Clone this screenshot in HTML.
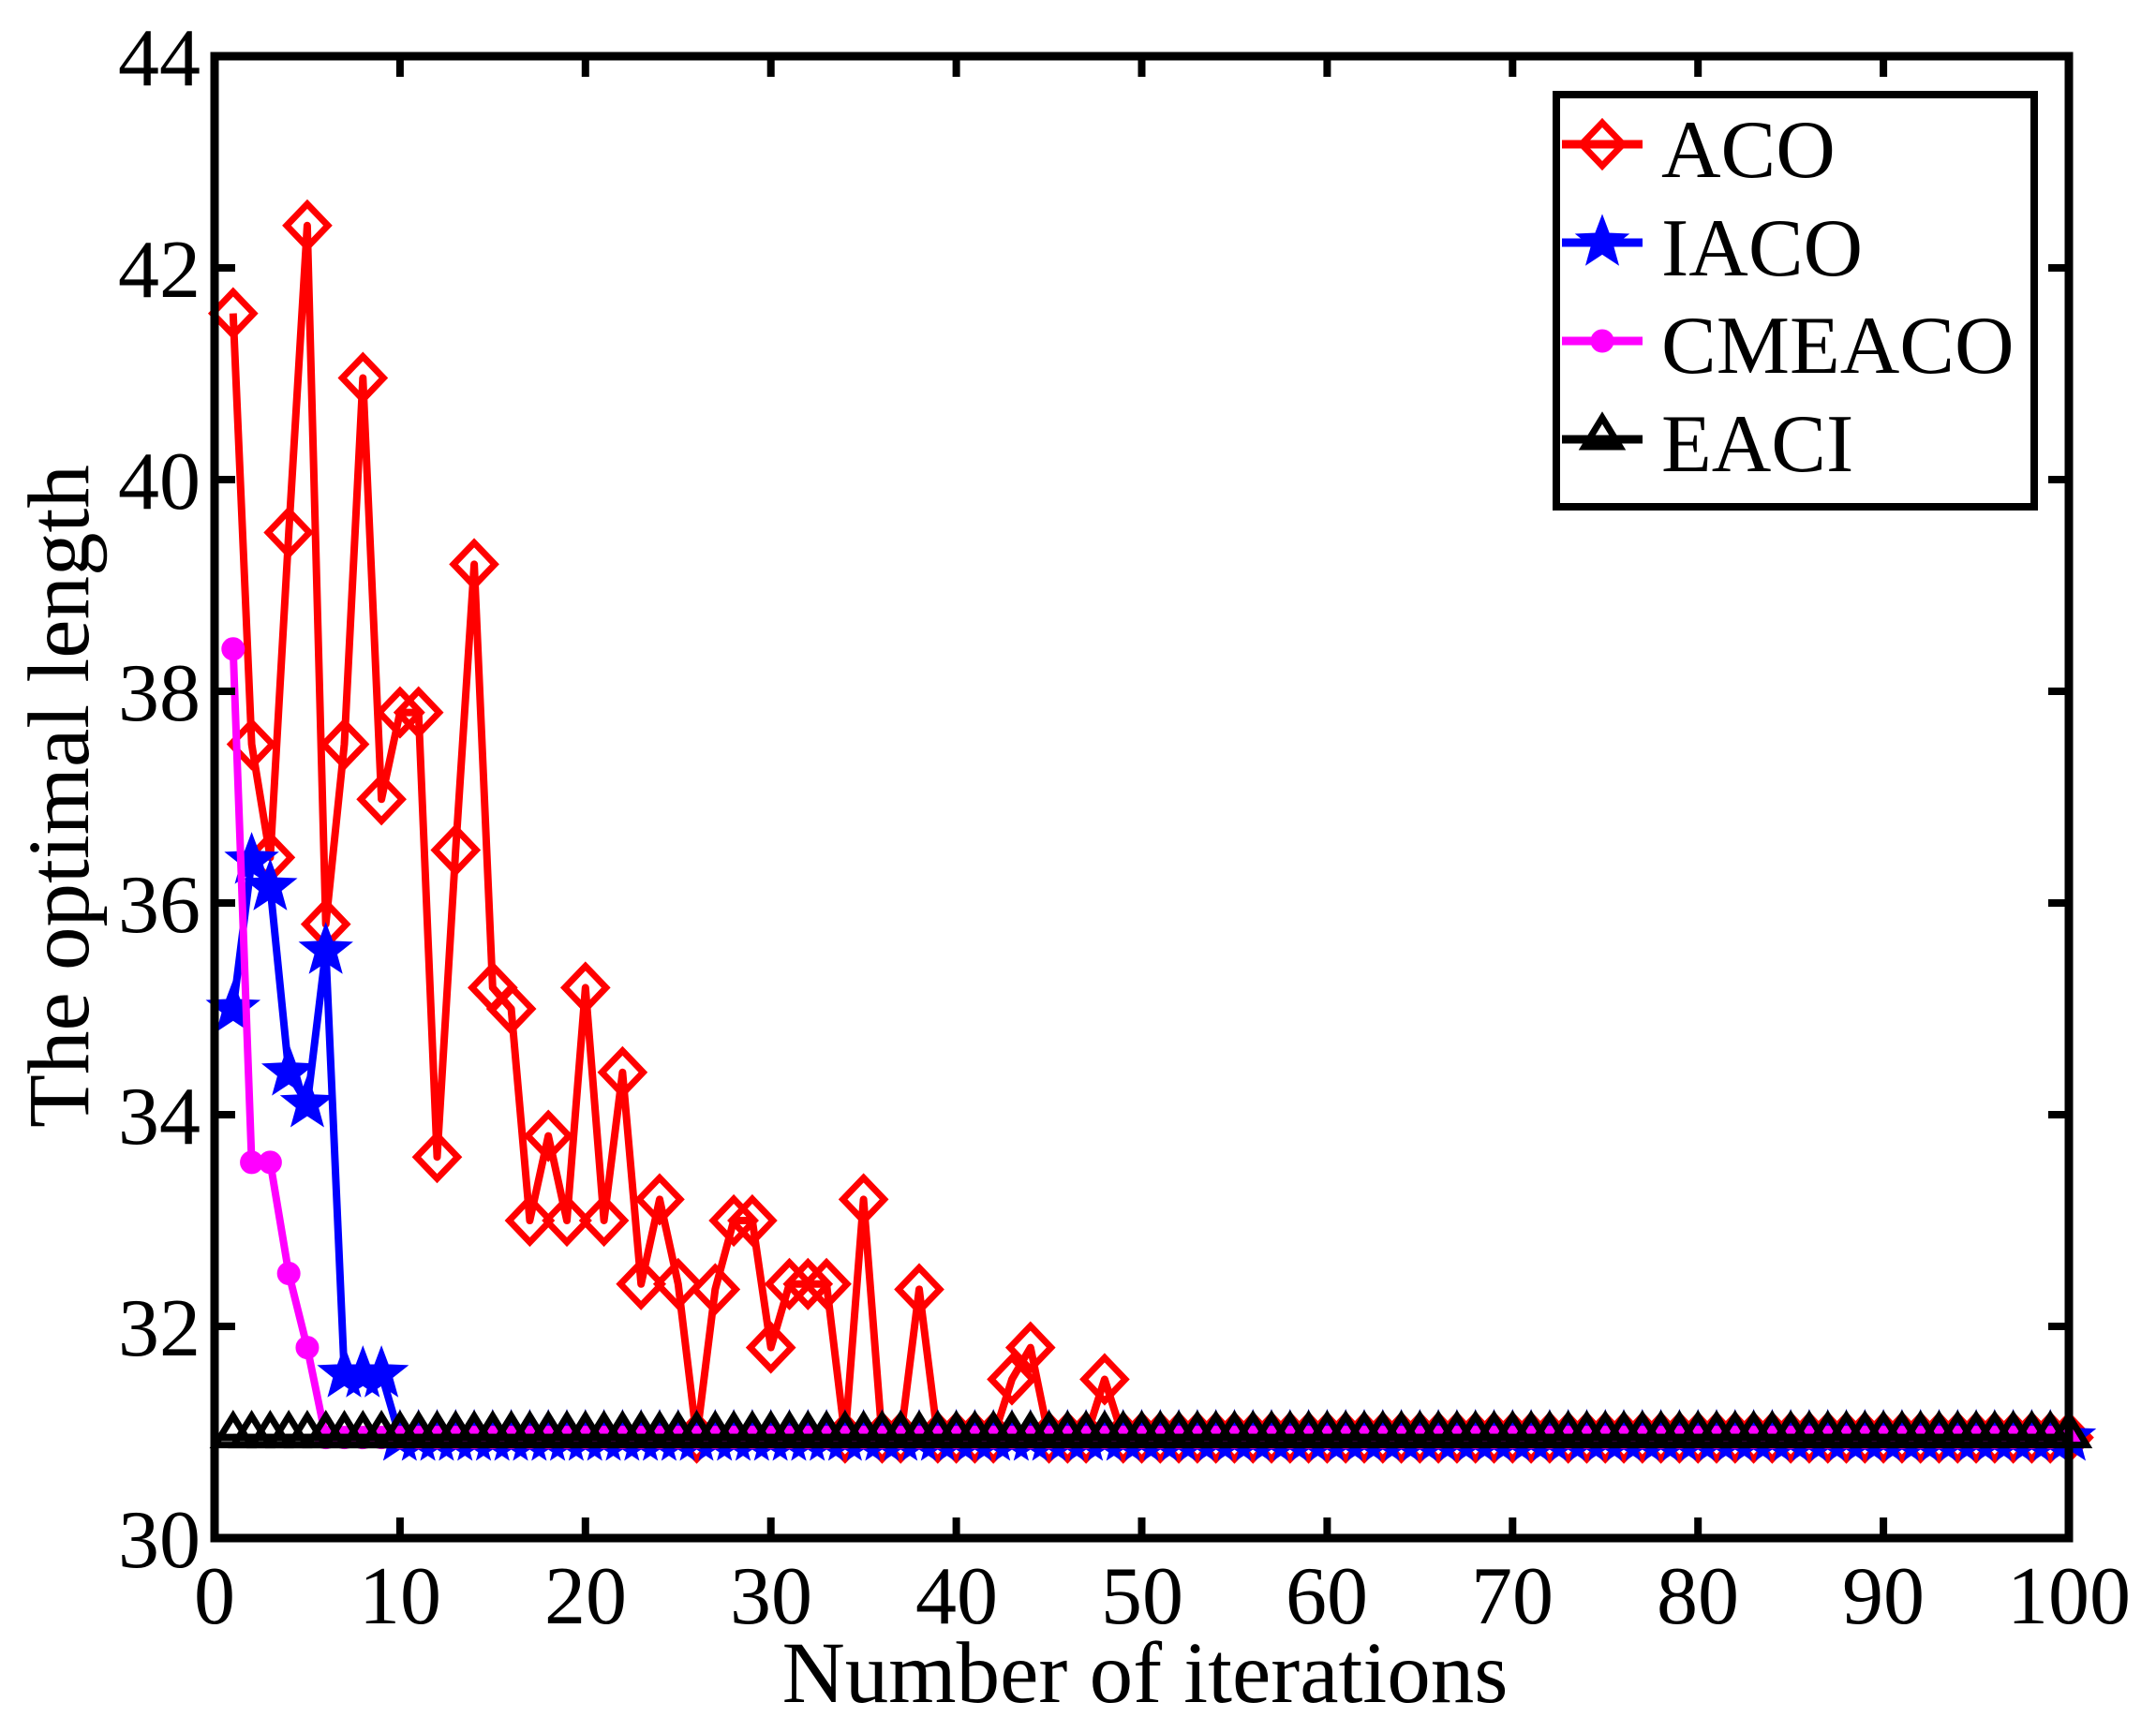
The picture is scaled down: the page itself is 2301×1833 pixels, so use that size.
<!DOCTYPE html>
<html><head><meta charset="utf-8"><style>
html,body{margin:0;padding:0;background:#fff;}
svg{display:block;}
text{font-family:"Liberation Serif",serif;fill:#000;}
</style></head><body>
<svg id="s" width="2301" height="1833" viewBox="0 0 2301 1833" xmlns="http://www.w3.org/2000/svg">
<rect width="2301" height="1833" fill="#fff"/>
<g id="plot"></g>
<g font-size="88" text-anchor="end">
<text x="214" y="91">44</text>
<text x="214" y="317">42</text>
<text x="214" y="543">40</text>
<text x="214" y="769">38</text>
<text x="214" y="995">36</text>
<text x="214" y="1221">34</text>
<text x="214" y="1447">32</text>
<text x="214" y="1673">30</text>
</g>
<g font-size="88" text-anchor="middle">
<text x="229" y="1733">0</text><text x="427" y="1733">10</text><text x="625" y="1733">20</text>
<text x="823" y="1733">30</text><text x="1021" y="1733">40</text><text x="1219" y="1733">50</text>
<text x="1416" y="1733">60</text><text x="1614" y="1733">70</text><text x="1812" y="1733">80</text>
<text x="2010" y="1733">90</text><text x="2208" y="1733">100</text>
</g>
<g font-size="93" text-anchor="middle">
<text x="1222" y="1817">Number of iterations</text>
<text transform="translate(94,850) rotate(-90)">The optimal length</text>
</g>
<rect x="1661" y="101" width="510" height="440" fill="#fff" stroke="#000" stroke-width="8"/>
<g font-size="88">
<text x="1773" y="189">ACO</text>
<text x="1773" y="294">IACO</text>
<text x="1773" y="398">CMEACO</text>
<text x="1773" y="503">EACI</text>
</g>
<g id="leg"></g>
</svg>
<script>
var NS="http://www.w3.org/2000/svg";
function X(x){return 229+x*19.79;}
function Y(v){return 60+(44-v)*113;}
var C=30.95;
var aco=[41.57,37.5,36.43,39.5,42.4,35.8,37.5,40.96,36.98,37.8,37.8,33.6,36.5,39.2,35.2,35.0,33.0,33.8,33.0,35.2,33.0,34.4,32.4,33.2,32.4,C,32.35,33.0,33.0,31.8,32.4,32.4,32.4,C,33.2,C,C,32.35,C,C,C,C,31.5,31.8,C,C,C,31.5];
while(aco.length<100)aco.push(C);
var iaco=[35.0,36.4,36.15,34.4,34.1,35.55,31.55,31.55,31.55];while(iaco.length<100)iaco.push(C);
var cme=[38.4,33.55,33.55,32.5,31.8];while(cme.length<100)cme.push(C);
var eaci=[];while(eaci.length<100)eaci.push(C);
var g=document.getElementById('plot');
function el(t,a,p){var e=document.createElementNS(NS,t);for(var k in a)e.setAttribute(k,a[k]);(p||g).appendChild(e);return e;}
function star(cx,cy,r){var s="";for(var i=0;i<10;i++){var a=-Math.PI/2+i*Math.PI/5;var rr=i%2?r*0.42:r;s+=(cx+rr*Math.cos(a)).toFixed(1)+","+(cy+rr*Math.sin(a)).toFixed(1)+" ";}return s;}
function marker(type,cx,cy,col,p){
 if(type=='d')el('polygon',{points:(cx)+","+(cy-23)+" "+(cx+22)+","+cy+" "+cx+","+(cy+23)+" "+(cx-22)+","+cy,fill:'none',stroke:col,'stroke-width':7},p);
 else if(type=='s')el('polygon',{points:star(cx,cy,25),fill:col,stroke:col,'stroke-width':4},p);
 else if(type=='o')el('circle',{cx:cx,cy:cy,r:11,fill:col,stroke:col,'stroke-width':3},p);
 else el('polygon',{points:cx+","+(cy-23)+" "+(cx+19)+","+(cy+8)+" "+(cx-19)+","+(cy+8),fill:'none',stroke:col,'stroke-width':7},p);
}
function series(d,col,type){
 var pts=d.map(function(v,i){return X(i+1).toFixed(1)+","+Y(v).toFixed(1);}).join(" ");
 el('polyline',{points:pts,fill:'none',stroke:col,'stroke-width':8,'stroke-linejoin':'round'});
 d.forEach(function(v,i){marker(type,X(i+1),Y(v),col);});
}
series(aco,'#ff0000','d');
series(iaco,'#0000ff','s');
series(cme,'#ff00ff','o');
el('line',{x1:229,y1:Y(C),x2:2208,y2:Y(C),stroke:'#000','stroke-width':8});
series(eaci,'#000','t');
el('rect',{x:229,y:60,width:1979,height:1582,fill:'none',stroke:'#000','stroke-width':9});
for(var i=0;i<=10;i++){var x=X(i*10);el('line',{x1:x,y1:1642,x2:x,y2:1620,stroke:'#000','stroke-width':8});el('line',{x1:x,y1:60,x2:x,y2:82,stroke:'#000','stroke-width':8});}
for(var v=30;v<=44;v+=2){var y=Y(v);el('line',{x1:229,y1:y,x2:251,y2:y,stroke:'#000','stroke-width':8});el('line',{x1:2208,y1:y,x2:2186,y2:y,stroke:'#000','stroke-width':8});}
var L=document.getElementById('leg');
var ly=[184,289,394,499],cols=['#ff0000','#0000ff','#ff00ff','#000'],ty=['d','s','o','t'];
for(var k=0;k<4;k++){var yy=ly[k]-30;el('line',{x1:1667,y1:yy,x2:1753,y2:yy,stroke:cols[k],'stroke-width':9},L);marker(ty[k],1710,yy,cols[k],L);}
</script>
</body></html>
